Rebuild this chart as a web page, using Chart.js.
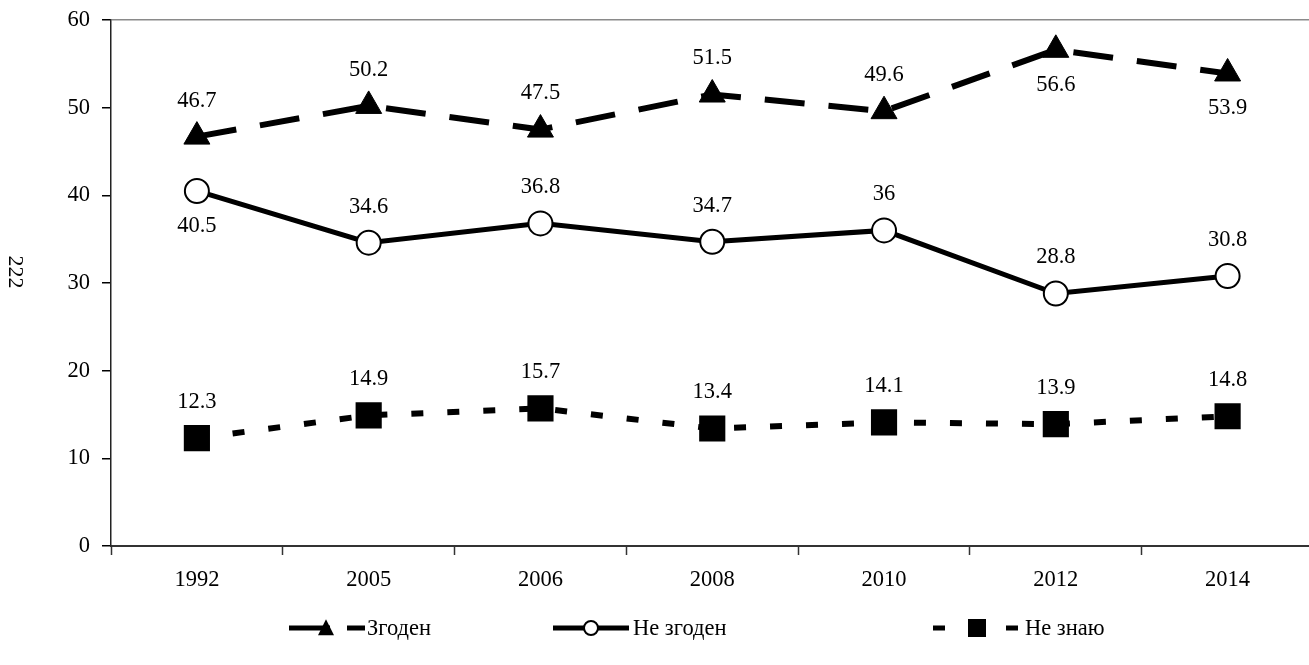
<!DOCTYPE html>
<html>
<head>
<meta charset="utf-8">
<script src="https://cdn.jsdelivr.net/npm/chart.js@4.4.0/dist/chart.umd.min.js"></script>
<style>
  html, body { margin: 0; padding: 0; background: #fff; overflow: hidden; }
  #wrap { width: 1332px; height: 665px; }
</style>
</head>
<body>
<div id="wrap"><canvas id="myChart" width="1332" height="665"></canvas></div>
<script>
const years = ["1992", "2005", "2006", "2008", "2010", "2012", "2014"];
const agree = [46.7, 50.2, 47.5, 51.5, 49.6, 56.6, 53.9];
const disagree = [40.5, 34.6, 36.8, 34.7, 36, 28.8, 30.8];
const dontKnow = [12.3, 14.9, 15.7, 13.4, 14.1, 13.9, 14.8];
const seriesNames = ["Згоден", "Не згоден", "Не знаю"];
const pageNumber = "222";

const FONT = "'Liberation Serif', 'Times New Roman', serif";

// value labels above (or below) each point
const valueLabels = {
  id: "valueLabels",
  afterDatasetsDraw(chart) {
    const ctx = chart.ctx;
    ctx.save();
    ctx.font = "22.5px " + FONT;
    ctx.fillStyle = "#000";
    ctx.textAlign = "center";
    ctx.textBaseline = "middle";
    chart.data.datasets.forEach((ds, i) => {
      const meta = chart.getDatasetMeta(i);
      const below = ds.labelBelow || [];
      meta.data.forEach((pt, j) => {
        const dy = below.includes(j) ? 35 : -36;
        ctx.fillText(String(ds.data[j]), pt.x, pt.y + dy);
      });
    });
    ctx.restore();
  }
};

function marker(ctx, style, x, y, size) {
  ctx.beginPath();
  if (style === "triangle") {
    ctx.moveTo(x, y - size * 0.55);
    ctx.lineTo(x + size / 2, y + size * 0.45);
    ctx.lineTo(x - size / 2, y + size * 0.45);
    ctx.closePath();
    ctx.fillStyle = "#000";
    ctx.fill();
  } else if (style === "circle") {
    ctx.arc(x, y, size / 2, 0, Math.PI * 2);
    ctx.fillStyle = "#fff";
    ctx.fill();
    ctx.lineWidth = 2;
    ctx.strokeStyle = "#000";
    ctx.stroke();
  } else {
    ctx.fillStyle = "#000";
    ctx.fillRect(x - size / 2, y - size / 2, size, size);
  }
}

// legend at the bottom, drawn by hand like the original
const bottomLegend = {
  id: "bottomLegend",
  afterDraw(chart) {
    const ctx = chart.ctx;
    const y = 628;
    const items = [
      { x0: 289, x1: 365, mx: 326, tx: 367, dash: [41, 17], size: 16 },
      { x0: 553, x1: 629, mx: 591, tx: 633, dash: [], size: 14 },
      { x0: 933, x1: 1019, mx: 977, tx: 1025, dash: [12, 61], size: 18 }
    ];
    ctx.save();
    chart.data.datasets.forEach((ds, i) => {
      const it = items[i];
      ctx.beginPath();
      ctx.setLineDash(it.dash);
      ctx.lineWidth = 5;
      ctx.strokeStyle = "#000";
      ctx.moveTo(it.x0, y);
      ctx.lineTo(it.x1, y);
      ctx.stroke();
      ctx.setLineDash([]);
      marker(ctx, ds.pointStyle, it.mx, y, it.size);
      ctx.font = "22.5px " + FONT;
      ctx.fillStyle = "#000";
      ctx.textAlign = "left";
      ctx.textBaseline = "middle";
      ctx.fillText(ds.label, it.tx, y + 1);
    });
    // page number printed sideways on the left margin
    ctx.translate(15, 272);
    ctx.rotate(Math.PI / 2);
    ctx.font = "22px " + FONT;
    ctx.textAlign = "center";
    ctx.textBaseline = "middle";
    ctx.fillText(pageNumber, 0, 0);
    ctx.restore();
  }
};

const ctx = document.getElementById("myChart").getContext("2d");

new Chart(ctx, {
  type: "line",
  data: {
    labels: years,
    datasets: [
      {
        label: seriesNames[0],
        data: agree,
        borderColor: "#000",
        borderWidth: 6,
        borderDash: [40, 24],
        pointStyle: "triangle",
        pointRadius: 15,
        pointBackgroundColor: "#000",
        pointBorderColor: "#000",
        pointBorderWidth: 1,
        labelBelow: [5, 6],
        fill: false
      },
      {
        label: seriesNames[1],
        data: disagree,
        borderColor: "#000",
        borderWidth: 5,
        pointStyle: "circle",
        pointRadius: 12,
        pointBackgroundColor: "#fff",
        pointBorderColor: "#000",
        pointBorderWidth: 2,
        labelBelow: [0],
        fill: false
      },
      {
        label: seriesNames[2],
        data: dontKnow,
        borderColor: "#000",
        borderWidth: 6,
        borderDash: [12, 24],
        pointStyle: "rect",
        pointRadius: 18.5,
        pointBackgroundColor: "#000",
        pointBorderColor: "#000",
        pointBorderWidth: 0,
        fill: false
      }
    ]
  },
  options: {
    responsive: false,
    animation: false,
    events: [],
    layout: { padding: { top: 20, right: 7, left: 0, bottom: 0 } },
    plugins: {
      legend: { display: false },
      tooltip: { enabled: false }
    },
    scales: {
      x: {
        offset: true,
        afterFit: (s) => { s.height = 119; },
        grid: {
          offset: true,
          drawOnChartArea: false,
          tickLength: 9,
          tickColor: "#333",
          tickWidth: 1.5
        },
        border: { color: "#333", width: 2 },
        ticks: {
          color: "#000",
          padding: 12,
          font: { family: FONT, size: 22.5 }
        }
      },
      y: {
        min: 0,
        max: 60,
        afterFit: (s) => {
          s.width = 111;
          s.paddingTop = 0;
          s.paddingBottom = 0;
        },
        grid: {
          color: (c) => (c.tick && c.tick.value === 60 ? "#8a8a8a" : "rgba(0,0,0,0)"),
          lineWidth: 1.5,
          tickLength: 9,
          tickColor: "#000",
          tickWidth: 1.5
        },
        border: { color: "#222", width: 1.5 },
        ticks: {
          stepSize: 10,
          color: "#000",
          padding: 12,
          font: { family: FONT, size: 22.5 }
        }
      }
    }
  },
  plugins: [valueLabels, bottomLegend]
});
</script>
</body>
</html>
